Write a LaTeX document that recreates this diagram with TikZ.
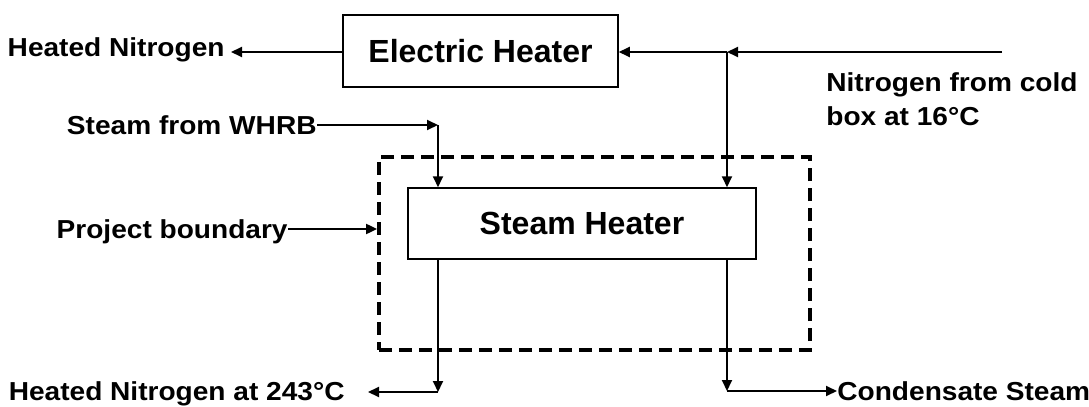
\documentclass[tikz,border=0pt]{standalone}
\usepackage{fontspec}
\setmainfont{Liberation Sans}
\newfontfamily\lblfont[FakeStretch=1.08]{Liberation Sans}
\usetikzlibrary{positioning,arrows.meta}

\begin{document}
\begin{tikzpicture}[
x=0.5pt, y=-0.5pt,
box/.style={draw, line width=0.75pt, inner sep=0pt, font=\fontsize{16}{19}\selectfont\bfseries},
lbl/.style={inner sep=0pt, align=left, font=\lblfont\fontsize{13}{17}\selectfont\bfseries},
arrow/.style={-{Triangle[length=5.5pt,width=5pt]}, line width=1pt},
boundary/.style={draw, line width=1.9pt, dash pattern=on 6.5pt off 3.5pt, inner sep=0pt}
]
\useasboundingbox (0,0) rectangle (1089,407);

% heaters and project boundary
\node[box, minimum width=137.5pt, minimum height=36pt] (elec) at (480.5,51) {Electric Heater};
\node[box, minimum width=174pt, minimum height=35.5pt] (steam) at (582,223.5) {Steam Heater};
\node[boundary, minimum width=215.5pt, minimum height=96.5pt] (bound) at (594.5,253.5) {};

% labels
\node[lbl, anchor=base east] (hotn) at (225,56) {Heated Nitrogen};
\node[lbl, anchor=base west] (cold) at (826,125) {Nitrogen from cold\\box at 16°C};
\node[lbl, anchor=base east] (whrb) at (317,134) {Steam from WHRB};
\node[lbl, anchor=base east] (proj) at (288,238) {Project boundary};
\node[lbl, anchor=base east] (hot243) at (345,400) {Heated Nitrogen at 243°C};
\node[lbl, anchor=base west] (cond) at (837,400) {Condensate Steam};

% nitrogen line
\coordinate (coldin) at (1002,52);
\coordinate (split) at (727,52);
\coordinate (hotnout) at (231,52);
\draw[arrow] (coldin) -- (split);
\draw[arrow] (split) -- (elec.east |- split);
\draw[arrow] (split) -- (split |- steam.north);
\draw[arrow] (elec.west |- split) -- (hotnout);

% steam in
\coordinate (bend) at (438,125);
\draw[arrow] (whrb.east |- bend) -- (bend);
\draw[arrow] (bend) -- (bend |- steam.north);
\draw[arrow] (proj.east |- 0,229) -- (bound.west |- 0,229);

% outlets
\coordinate (lowl) at (438,392);
\coordinate (lowr) at (727,391);
\draw[arrow] (lowl |- steam.south) -- (lowl);
\draw[arrow] (lowl) -- (368,392);
\draw[arrow] (lowr |- steam.south) -- (lowr);
\draw[arrow] (lowr) -- (cond.west |- lowr);
\end{tikzpicture}
\end{document}
